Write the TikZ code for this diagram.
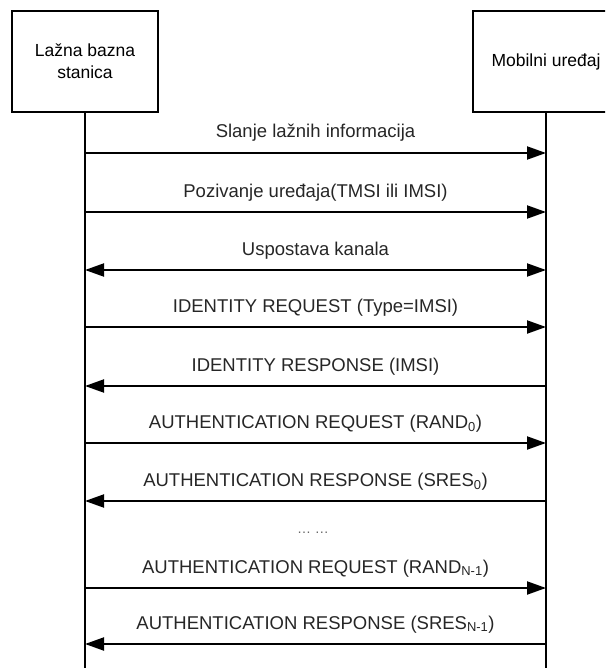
\documentclass[tikz,border=0pt]{standalone}
\usepackage{fontspec}
\setmainfont{Liberation Sans}
\usetikzlibrary{arrows.meta, positioning}

\begin{document}
\begin{tikzpicture}[
    x=1pt, y=-1pt,
    actor/.style={rectangle, draw=black, line width=1.2pt, minimum width=146pt, minimum height=101pt, align=center, font=\fontsize{17.5}{22}\selectfont},
    life/.style={line width=2.4pt},
    msg/.style={-{Triangle[length=19pt, width=13pt]}, line width=2pt},
    bimsg/.style={{Triangle[length=19pt, width=13pt]}-{Triangle[length=19pt, width=13pt]}, line width=2pt},
    lbl/.style={midway, anchor=base, yshift=15pt, inner sep=0pt, font=\fontsize{18.5}{22}\selectfont, text=black!85}
]
\clip (0,0) rectangle (605,668);

% Lifeline heads
\node (bts) [actor] at (85,61.5) {La\v{z}na bazna\\stanica};
\node (ms) [actor] at (546,61.5) {Mobilni ure\dj aj};

% Lifelines
\coordinate (btsend) at (85,668);
\coordinate (msend) at (546,668);
\draw [life] (bts.south) -- (btsend);
\draw [life] (ms.south) -- (msend);

% Message end points
\foreach \y/\n in {153/1, 212/2, 270/3, 327/4, 386/5, 443/6, 501/7, 588/8, 644/9} {
    \coordinate (a\n) at (bts.south |- 0,\y);
    \coordinate (b\n) at (ms.south |- 0,\y);
}

% Messages
\draw [msg] (a1) -- node[lbl] {Slanje la\v{z}nih informacija} (b1);
\draw [msg] (a2) -- node[lbl] {Pozivanje ure\dj aja(TMSI ili IMSI)} (b2);
\draw [bimsg] (a3) -- node[lbl] {Uspostava kanala} (b3);
\draw [msg] (a4) -- node[lbl] {IDENTITY REQUEST (Type=IMSI)} (b4);
\draw [msg] (b5) -- node[lbl] {IDENTITY RESPONSE (IMSI)} (a5);
\draw [msg] (a6) -- node[lbl] {AUTHENTICATION REQUEST (RAND\textsubscript{0})} (b6);
\draw [msg] (b7) -- node[lbl] {AUTHENTICATION RESPONSE (SRES\textsubscript{0})} (a7);
\draw [msg] (a8) -- node[lbl] {AUTHENTICATION REQUEST (RAND\textsubscript{N-1})} (b8);
\draw [msg] (b9) -- node[lbl] {AUTHENTICATION RESPONSE (SRES\textsubscript{N-1})} (a9);

% Omitted rounds
\node (gap) [text=black!60, font=\fontsize{14}{16}\selectfont] at (313,533) {\dots\ \dots};
\end{tikzpicture}
\end{document}
